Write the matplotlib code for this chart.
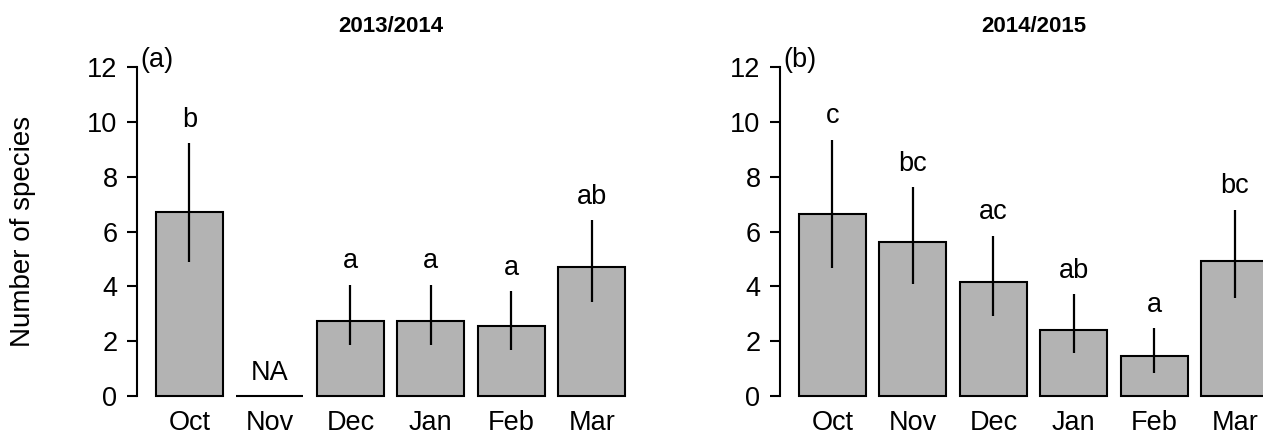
import numpy as np
import matplotlib
matplotlib.use("Agg")
import matplotlib.pyplot as plt

plt.rcParams["font.family"] = ["Liberation Sans", "DejaVu Sans"]

# Data
months = ["Oct", "Nov", "Dec", "Jan", "Feb", "Mar"]

mean_1314 = [6.73, 0.0, 2.75, 2.75, 2.55, 4.72]
lower_1314 = [4.88, np.nan, 1.85, 1.85, 1.68, 3.44]
upper_1314 = [9.22, np.nan, 4.06, 4.06, 3.83, 6.41]
letters_1314 = ["b", "NA", "a", "a", "a", "ab"]

mean_1415 = [6.63, 5.61, 4.16, 2.41, 1.46, 4.94]
lower_1415 = [4.66, 4.10, 2.92, 1.56, 0.84, 3.57]
upper_1415 = [9.35, 7.63, 5.85, 3.71, 2.48, 6.80]
letters_1415 = ["c", "bc", "ac", "ab", "a", "bc"]

panels = [
    ("2013/2014", "(a)", mean_1314, lower_1314, upper_1314, letters_1314),
    ("2014/2015", "(b)", mean_1415, lower_1415, upper_1415, letters_1415),
]

FS = 19.5
fig = plt.figure(figsize=(12.63, 4.36), dpi=100)

# axes placed like R barplot (space = 0.2), second panel runs off the right edge
lefts = [137.2 / 1263, 780.2 / 1263]
width = (644.1 - 137.2) / 1263
bottom = (436 - 409.1) / 436
height = (409.1 - 54.2) / 436

x = 0.7 + 1.2 * np.arange(len(months))

for left, (title, tag, mean, low, up, letters) in zip(lefts, panels):
    ax = fig.add_axes([left, bottom, width, height])
    ax.bar(x, mean, width=1.0, color="#b3b3b3", edgecolor="black", linewidth=1.5, zorder=2)
    ax.vlines(x, low, up, color="black", linewidth=1.6, zorder=3)

    up_arr = np.array(up, dtype=float)
    mean_arr = np.array(mean, dtype=float)
    top = np.where(np.isnan(up_arr), mean_arr, up_arr)
    for xi, ti, lab in zip(x, top, letters):
        ax.text(xi, ti + 0.6, lab, ha="center", va="baseline", fontsize=FS)

    ax.set_xlim(-0.08, 7.48)
    ax.set_ylim(-0.48, 12.48)
    for s in ["top", "right", "bottom"]:
        ax.spines[s].set_visible(False)
    ax.spines["left"].set_bounds(0, 12)
    ax.spines["left"].set_linewidth(1.5)

    ax.set_yticks(range(0, 13, 2))
    ax.tick_params(axis="y", length=7.2, width=1.5, pad=7, labelsize=FS)
    ax.set_xticks(x)
    ax.set_xticklabels(months)
    ax.tick_params(axis="x", length=0, pad=1, labelsize=FS)

    ax.text(-0.04, 12, tag, ha="left", va="baseline", fontsize=FS)
    ax.set_title(title, fontsize=16, fontweight="bold", pad=16)

fig.text(23 / 1263, (436 - 231.6) / 436, "Number of species", rotation=90,
         ha="center", va="center", fontsize=20)

fig.savefig("out.png", dpi=100)
